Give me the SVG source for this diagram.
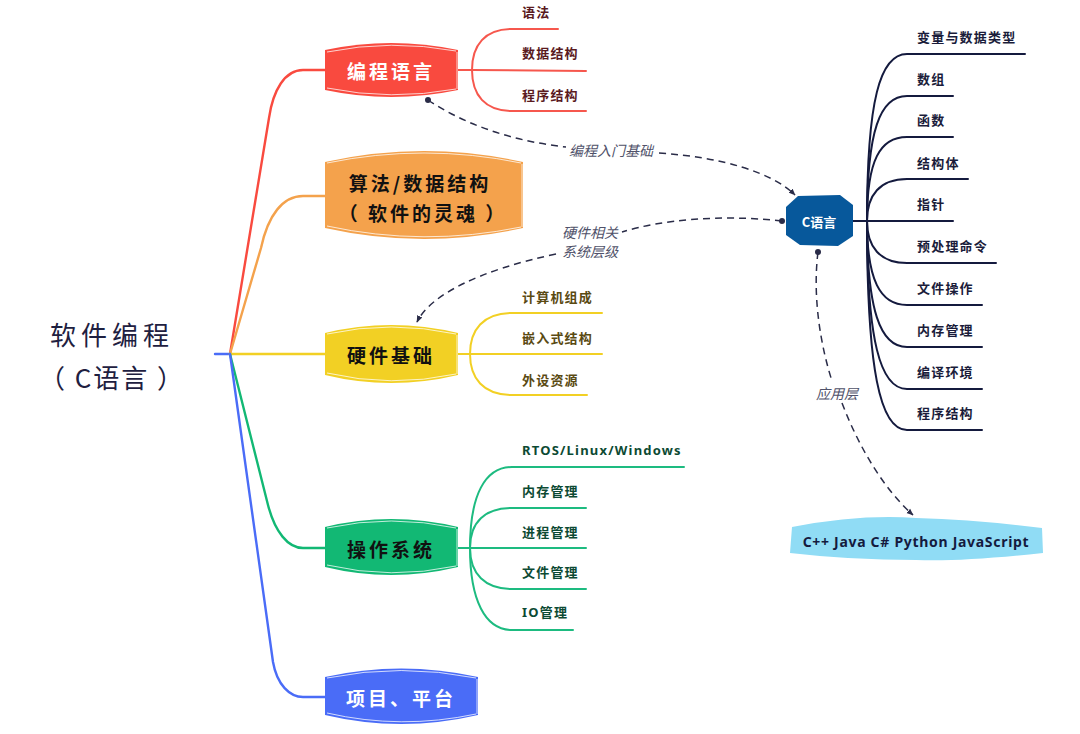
<svg xmlns="http://www.w3.org/2000/svg" width="1080" height="734" viewBox="0 0 1080 734">
<style>
.br{fill:none;stroke-width:2.4;stroke-linecap:round;stroke-linejoin:round}
.sub{fill:none;stroke-width:2;stroke-linecap:round;stroke-linejoin:round}
.dash{fill:none;stroke:#2a2c48;stroke-width:1.5;stroke-dasharray:7 5}
.rel{font-family:"Noto Sans CJK SC","Noto Sans",sans-serif;font-style:italic;font-size:14px;fill:#50526a}
.node{font-family:"Noto Sans CJK SC","Noto Sans",sans-serif;font-weight:bold;font-size:19px;letter-spacing:3px;text-anchor:middle;dominant-baseline:central}
.lbl{font-family:"Noto Sans","Noto Sans CJK SC",sans-serif;font-weight:bold;font-size:13px;letter-spacing:1.2px;dominant-baseline:central}
.sk{fill:none;stroke:#ffffff;stroke-width:1;opacity:0.75}
</style>
<defs>
<marker id="arr" viewBox="0 0 10 10" refX="9" refY="5" markerWidth="7" markerHeight="7" orient="auto" markerUnits="userSpaceOnUse">
<path d="M0,1 L10,5 L0,9 Z" fill="#2a2c48"/>
</marker>
</defs>

<!-- root -->
<g id="root">
<text x="112" y="333" font-family="Noto Sans CJK SC, sans-serif" font-size="26" letter-spacing="5" fill="#1e2040" text-anchor="middle" dominant-baseline="central">软件编程</text>
<text x="112" y="376" font-family="Noto Sans CJK SC, sans-serif" font-size="26" letter-spacing="2" fill="#1e2040" text-anchor="middle" dominant-baseline="central">（ C语言 ）</text>
</g>

<!-- connectors -->
<g id="connectors">
<path class="br" stroke="#4a6cf7" d="M215,354 L231,354"/>
<path class="br" stroke="#f94a3f" d="M230,354 L269,118 C273,90 285,70 303,70 L326,70"/>
<path class="br" stroke="#f4a24c" d="M230,354 L261,248 C268,215 283,196 303,196 L326,196"/>
<path class="br" stroke="#f2d024" d="M230,354 L326,354"/>
<path class="br" stroke="#12b874" d="M230,354 L268,505 C275,532 288,548 303,548 L326,548"/>
<path class="br" stroke="#4a6cf7" d="M230,354 L273,662 C277,685 290,697 303,697 L326,697"/>

<!-- 编程语言 subs -->
<g stroke="#f6574d">
<path class="sub" d="M458,70 L472,70"/>
<path class="sub" d="M472,70 C472,45 485,29 512,29 L558,29"/>
<path class="sub" d="M472,70 L586,71"/>
<path class="sub" d="M472,70 C472,95 485,111 512,111 L586,111"/>
</g>
<!-- 硬件基础 subs -->
<g stroke="#f2d024">
<path class="sub" d="M458,354 L470,354"/>
<path class="sub" d="M470,354 C470,330 483,313 512,313 L602,313"/>
<path class="sub" d="M470,354 L602,354"/>
<path class="sub" d="M470,354 C470,378 483,395 512,395 L587,395"/>
</g>
<!-- 操作系统 subs -->
<g stroke="#1dbb80">
<path class="sub" d="M458,548 L470,548"/>
<path class="sub" d="M470,548 C470,495 485,467 512,467 L684,467"/>
<path class="sub" d="M470,548 C470,522 485,508 512,508 L586,508"/>
<path class="sub" d="M470,548 L586,548"/>
<path class="sub" d="M470,548 C470,574 485,589 512,589 L586,589"/>
<path class="sub" d="M470,548 C470,600 485,630 512,630 L573,630"/>
</g>
<!-- C语言 subs -->
<g stroke="#141a3e">
<path class="sub" d="M853,221 L867,221"/>
<path class="sub" d="M867,221 C867,100 880,54 907,54 L1025,54"/>
<path class="sub" d="M867,221 C867,130 880,96 907,96 L953,96"/>
<path class="sub" d="M867,221 C867,160 880,137 907,137 L953,137"/>
<path class="sub" d="M867,221 C867,195 880,179 907,179 L968,179"/>
<path class="sub" d="M867,221 L953,221"/>
<path class="sub" d="M867,221 C867,247 880,263 907,263 L996,263"/>
<path class="sub" d="M867,221 C867,280 880,305 907,305 L982,305"/>
<path class="sub" d="M867,221 C867,310 880,347 907,347 L982,347"/>
<path class="sub" d="M867,221 C867,340 880,389 907,389 L982,389"/>
<path class="sub" d="M867,221 C867,370 880,430 907,430 L982,430"/>
</g>

<!-- relationships -->
<circle cx="428" cy="100" r="3" fill="#2a2c48"/>
<path class="dash" d="M428,100 C470,128 520,142 566,147"/>
<path class="dash" d="M659,153 C720,157 772,172 795,195" marker-end="url(#arr)"/>
<text class="rel" x="569" y="150" dominant-baseline="central">编程入门基础</text>

<circle cx="782" cy="221" r="3" fill="#2a2c48"/>
<path class="dash" d="M782,221 C720,214 660,220 622,232"/>
<path class="dash" d="M556,254 C480,270 430,295 417,322" marker-end="url(#arr)"/>
<text class="rel" x="562" y="232" dominant-baseline="central">硬件相关</text>
<text class="rel" x="562" y="251" dominant-baseline="central">系统层级</text>

<circle cx="818" cy="252" r="3" fill="#2a2c48"/>
<path class="dash" d="M818,252 C812,300 822,350 832,381"/>
<path class="dash" d="M842,403 C860,450 885,490 913,515" marker-end="url(#arr)"/>
<text class="rel" x="816" y="393" dominant-baseline="central">应用层</text>
</g>

<!-- main nodes -->
<g id="n-bianchengyuyan">
<path d="M325,50 Q391,36 458,50 L458,90 Q391,104 325,90 Z" fill="#f94a3f"/>
<path class="sk" d="M327,52 Q391,39 456,51 M457,52 L457,89 M456,89 Q391,101 327,88"/>
<text class="node" x="391" y="70" fill="#ffffff">编程语言</text>
</g>
<g id="n-suanfa">
<path d="M325,162 Q424,140 523,162 L523,228 Q424,250 325,228 Z" fill="#f4a24c"/>
<path class="sk" d="M327,163 Q424,143 521,163 M522,164 L522,227 M521,227 Q424,247 327,226"/>
<text class="node" x="420" y="182" fill="#111111" letter-spacing="1.5">算法/数据结构</text>
<text class="node" x="423" y="212" fill="#111111" letter-spacing="2">（ 软件的灵魂 ）</text>
</g>
<g id="n-yingjian">
<path d="M325,333 Q391,317 458,333 L458,375 Q391,391 325,375 Z" fill="#f2d024"/>
<path class="sk" d="M327,334 Q391,320 456,334 M457,335 L457,374 M456,374 Q391,388 327,373"/>
<text class="node" x="391" y="354" fill="#111111">硬件基础</text>
</g>
<g id="n-caozuo">
<path d="M325,527 Q391,511 458,527 L458,567 Q391,583 325,567 Z" fill="#12b874"/>
<path class="sk" d="M327,528 Q391,514 456,528 M457,529 L457,566 M456,566 Q391,580 327,565"/>
<text class="node" x="391" y="548" fill="#111111">操作系统</text>
</g>
<g id="n-xiangmu">
<path d="M325,677 Q401,660 478,677 L478,715 Q401,733 325,715 Z" fill="#4a6cf7"/>
<path class="sk" d="M327,678 Q401,663 476,678 M477,679 L477,714 M476,714 Q401,730 327,713"/>
<text class="node" x="401" y="697" fill="#ffffff">项目、平台</text>
</g>

<!-- sub labels -->
<g id="s-bc" fill="#5a1a1e">
<text class="lbl" x="522" y="12">语法</text>
<text class="lbl" x="522" y="53">数据结构</text>
<text class="lbl" x="522" y="95">程序结构</text>
</g>
<g id="s-yj" fill="#5a4a12">
<text class="lbl" x="522" y="297">计算机组成</text>
<text class="lbl" x="522" y="338">嵌入式结构</text>
<text class="lbl" x="522" y="380">外设资源</text>
</g>
<g id="s-cz" fill="#0c4a33">
<text class="lbl" x="522" y="450" letter-spacing="0">RTOS/Linux/Windows</text>
<text class="lbl" x="522" y="491">内存管理</text>
<text class="lbl" x="522" y="532">进程管理</text>
<text class="lbl" x="522" y="572">文件管理</text>
<text class="lbl" x="522" y="612">IO管理</text>
</g>

<!-- C语言 node -->
<g id="n-c">
<path d="M798,196 L840,195 L853,205 L853,236 L838,246 L800,245 L786,235 L786,207 Z" fill="#07589b"/>
<text x="819" y="221" font-family="Noto Sans CJK SC, sans-serif" font-weight="bold" font-size="13" fill="#ffffff" text-anchor="middle" dominant-baseline="central">C语言</text>
</g>
<g id="s-c" fill="#1a1c3a">
<text class="lbl" x="917" y="37">变量与数据类型</text>
<text class="lbl" x="917" y="79">数组</text>
<text class="lbl" x="917" y="120">函数</text>
<text class="lbl" x="917" y="163">结构体</text>
<text class="lbl" x="917" y="204">指针</text>
<text class="lbl" x="917" y="246">预处理命令</text>
<text class="lbl" x="917" y="288">文件操作</text>
<text class="lbl" x="917" y="330">内存管理</text>
<text class="lbl" x="917" y="372">编译环境</text>
<text class="lbl" x="917" y="413">程序结构</text>
</g>

<!-- languages node -->
<g id="n-lang">
<path d="M792,527 Q860,514 916,518 Q980,520 1042,528 L1043,553 Q960,562 916,560 Q850,560 790,553 Z" fill="#90dcf5"/>
<text x="916" y="541" font-family="Noto Sans, sans-serif" font-weight="bold" font-size="14" letter-spacing="0.7" fill="#141a3e" text-anchor="middle" dominant-baseline="central">C++ Java C# Python JavaScript</text>
</g>
</svg>
